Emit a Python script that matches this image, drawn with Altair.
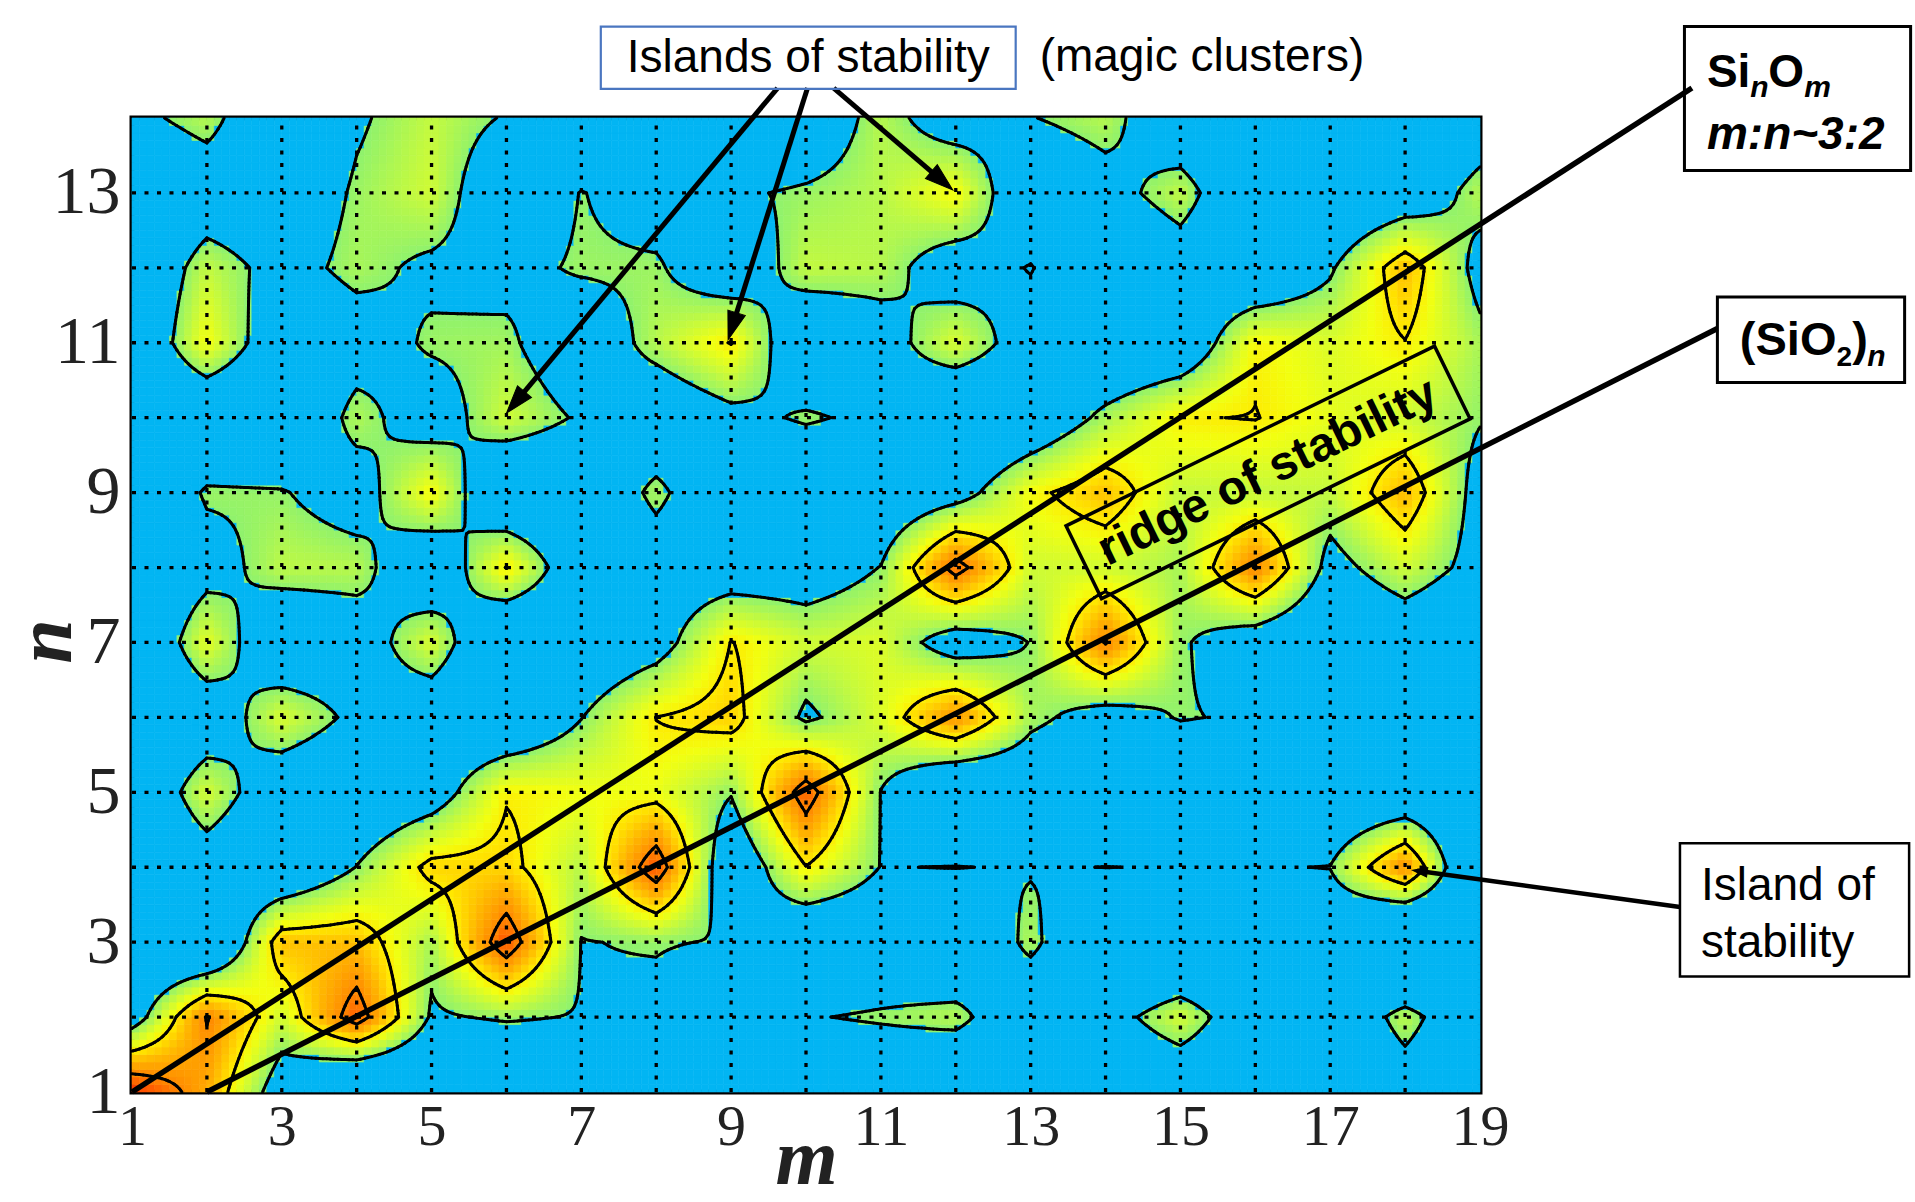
import numpy as np
import pandas as pd
import altair as alt

alt.data_transformers.disable_max_rows()

# Stability map of Si_nO_m clusters: m oxygen atoms (x), n silicon atoms (y)
m_values = list(range(1, 20))
n_values = list(range(1, 15))
m_ticks = list(range(1, 20, 2))
n_ticks = list(range(1, 14, 2))

# relative stability at each node, one list per n, m = 1 ... 19
n01 = [3.8, 2.6, 0.45, -0.8, -0.3, -0.5, 0.0, 0.0, 0.0, 0.0, 0.0, -0.4, 0.0, 0.0, 0.1, 0.0, 0.0, 0.45, 0.0]
n02 = [0.5, 3.05, 1.5, 3.4, 0.9, 1.1, 0.95, 0.8, 0.2, 0.95, 1.1, 1.3, 0.0, 0.6, 1.55, 0.2, 0.0, 1.35, 0.0]
n03 = [0.0, -0.5, 2.4, 2.4, 1.2, 3.5, 0.98, 1.05, 0.95, 0.0, 0.2, -0.2, 1.25, -0.4, -0.5, 0.0, 0.2, -1.2, 0.0]
n04 = [0.0, 0.5, 0.0, 1.02, 2.2, 2.2, 1.3, 3.5, 0.15, 1.98, 0.98, 1.02, 0.94, 1.01, 0.96, 0.95, 1.02, 2.95, -0.6]
n05 = [0.0, 1.55, 0.3, 0.1, 0.5, 1.95, 1.8, 1.75, 1.05, 3.4, 0.98, -0.3, 0.2, 0.0, 0.0, 0.0, 0.0, 0.0, 0.0]
n06 = [0.0, 0.35, 1.6, 0.8, 0.3, 0.0, 0.98, 2.01, 2.25, 0.85, 1.6, 2.9, 1.2, 0.6, 1.05, 0.9, 0.0, 0.0, 0.0]
n07 = [-0.2, 1.7, 0.1, 0.5, 1.6, -0.3, 0.2, 0.6, 2.02, 1.5, 1.6, 0.5, 1.02, 3.05, 1.1, 0.4, 0.0, 0.3, 0.0]
n08 = [0.0, 0.65, 1.35, 1.3, 0.15, 2.03, 0.2, 0.5, 0.45, 0.5, 1.02, 3.3, 1.5, 1.5, 1.2, 3.05, 0.7, 1.5, 0.7]
n09 = [0.0, 1.1, 1.05, 0.6, 1.9, -0.1, 0.1, 1.2, 0.1, 0.0, 0.2, 0.6, 1.85, 2.4, 1.4, 1.4, 1.4, 2.5, 0.65]
n10 = [0.0, 0.0, 0.0, 1.25, 0.55, 1.5, 0.9, 0.25, 0.75, 1.1, 0.8, -0.2, 0.2, 1.2, 1.97, 2.02, 1.7, 1.5, 1.05]
n11 = [0.0, 1.85, 0.3, 0.6, 1.1, 1.15, 0.3, 1.3, 2.03, 0.1, 0.6, 1.6, 0.5, 0.0, 0.2, 1.9, 1.6, 1.98, 1.2]
n12 = [0.0, 1.4, 0.7, 1.2, 0.85, 0.75, 1.1, 1.1, 0.3, 1.4, 1.3, 0.5, 1.05, 0.0, 0.47, 0.0, 0.9, 2.45, 0.7]
n13 = [0.0, 0.4, 0.35, 1.1, 1.5, 0.2, 1.03, 0.6, 0.9, 1.1, 1.3, 1.9, 0.1, 0.65, 1.4, -0.1, 0.0, 0.3, 1.3]
n14 = [0.77, 1.3, 0.0, 0.9, 1.4, 0.94, 0.0, 0.0, 0.0, 0.3, 1.3, 0.5, 0.97, 1.3, 0.2, 0.0, 0.0, 0.0, 0.44]

contour_levels = [1.0, 2.0, 3.0]
color_stops = [-3.0, 0.999, 1.0, 1.4, 1.8, 2.05, 2.5, 3.0, 3.5, 3.9]
color_range = ["#02b5f3", "#02b5f3", "#8ef26e", "#c4fa3e", "#f2ff10", "#ffe800",
               "#ffb400", "#ff8800", "#ff5000", "#e81000"]

grid = np.array([n01, n02, n03, n04, n05, n06, n07, n08, n09, n10, n11, n12, n13, n14], dtype=float)


def bilinear(ms, ns):
    """Bilinear surface through the node values, sampled at ms x ns."""
    i = np.clip(np.floor(ms - m_values[0]).astype(int), 0, grid.shape[1] - 2)
    j = np.clip(np.floor(ns - n_values[0]).astype(int), 0, grid.shape[0] - 2)
    u = (ms - m_values[0] - i)[None, :]
    v = (ns - n_values[0] - j)[:, None]
    g00 = grid[np.ix_(j, i)]
    g01 = grid[np.ix_(j, i + 1)]
    g10 = grid[np.ix_(j + 1, i)]
    g11 = grid[np.ix_(j + 1, i + 1)]
    return g00 * (1 - u) * (1 - v) + g01 * u * (1 - v) + g10 * (1 - u) * v + g11 * u * v


# filled map: small cells over the whole (m, n) area
step = 0.1
m_cells = m_values[0] + step * (np.arange(int(round((m_values[-1] - m_values[0]) / step))) + 0.5)
n_cells = n_values[0] + step * (np.arange(int(round((n_values[-1] - n_values[0]) / step))) + 0.5)
surface = bilinear(m_cells, n_cells)
mm, nn = np.meshgrid(m_cells, n_cells)
heat_df = pd.DataFrame({"m": mm.ravel().round(3), "n": nn.ravel().round(3), "v": surface.ravel().round(3)})

# contour lines by marching squares on a finer sampling
m_line = np.linspace(m_values[0], m_values[-1], 361)
n_line = np.linspace(n_values[0], n_values[-1], 261)
fine = bilinear(m_line, n_line)

CASES = {1: [(3, 0)], 2: [(0, 1)], 3: [(3, 1)], 4: [(1, 2)], 6: [(0, 2)], 7: [(3, 2)],
         8: [(2, 3)], 9: [(0, 2)], 11: [(1, 2)], 12: [(1, 3)], 13: [(0, 1)], 14: [(3, 0)]}


def contour_segments(F, xs, ys, level):
    above = F > level
    code = (above[:-1, :-1] * 1 + above[:-1, 1:] * 2 + above[1:, 1:] * 4 + above[1:, :-1] * 8)
    rows = []
    for j, i in zip(*np.nonzero((code > 0) & (code < 15))):
        v0, v1, v2, v3 = F[j, i], F[j, i + 1], F[j + 1, i + 1], F[j + 1, i]
        x0, x1, y0, y1 = xs[i], xs[i + 1], ys[j], ys[j + 1]

        def edge(k):
            if k == 0:
                return x0 + (level - v0) / (v1 - v0) * (x1 - x0), y0
            if k == 1:
                return x1, y0 + (level - v1) / (v2 - v1) * (y1 - y0)
            if k == 2:
                return x0 + (level - v3) / (v2 - v3) * (x1 - x0), y1
            return x0, y0 + (level - v0) / (v3 - v0) * (y1 - y0)

        c = int(code[j, i])
        centre_above = (v0 + v1 + v2 + v3) / 4 > level
        if c == 5:
            pairs = [(0, 1), (2, 3)] if centre_above else [(3, 0), (1, 2)]
        elif c == 10:
            pairs = [(3, 0), (1, 2)] if centre_above else [(0, 1), (2, 3)]
        else:
            pairs = CASES[c]
        for a, b in pairs:
            (xa, ya), (xb, yb) = edge(a), edge(b)
            rows.append((round(xa, 4), round(ya, 4), round(xb, 4), round(yb, 4)))
    return pd.DataFrame(rows, columns=["m", "n", "m2", "n2"])


contour_df = pd.concat([contour_segments(fine, m_line, n_line, lv) for lv in contour_levels], ignore_index=True)

# scales and axes shared by every layer
xscale = alt.Scale(domain=[m_values[0], m_values[-1]], nice=False, zero=False)
yscale = alt.Scale(domain=[n_values[0], n_values[-1]], nice=False, zero=False)
xaxis = alt.Axis(values=m_ticks, format="d", title="m", grid=False, ticks=False, domain=False,
                 labelFont="Liberation Serif", labelFontSize=58, labelColor="#222222", labelPadding=6,
                 labelFlush=False, labelOverlap=False,
                 titleFont="Liberation Serif", titleFontSize=80, titleFontStyle="italic",
                 titleFontWeight="bold", titleColor="#222222", titleX=674, titleY=91,
                 titleAlign="center", titleBaseline="alphabetic")
yaxis = alt.Axis(values=n_ticks, format="d", title="n", grid=False, ticks=False, domain=False,
                 labelFont="Liberation Serif", labelFontSize=68, labelColor="#222222", labelPadding=12,
                 labelFlush=False, labelOverlap=False,
                 titleFont="Liberation Serif", titleFontSize=80, titleFontStyle="italic",
                 titleFontWeight="bold", titleColor="#222222", titleAngle=270, titleX=-62, titleY=523,
                 titleAlign="center", titleBaseline="alphabetic")


def X(field):
    return alt.X(f"{field}:Q", scale=xscale, axis=xaxis)


def Y(field):
    return alt.Y(f"{field}:Q", scale=yscale, axis=yaxis)


cscale = alt.Scale(domain=color_stops, range=color_range, clamp=True, interpolate="rgb")
half = step / 2
heat = alt.Chart(heat_df).transform_calculate(
    m_lo=f"datum.m - {half}", m_hi=f"datum.m + {half}",
    n_lo=f"datum.n - {half}", n_hi=f"datum.n + {half}",
).mark_rect(strokeWidth=0.6).encode(
    x=X("m_lo"), x2="m_hi:Q", y=Y("n_lo"), y2="n_hi:Q",
    color=alt.Color("v:Q", scale=cscale, legend=None),
    stroke=alt.Stroke("v:Q", scale=cscale, legend=None),
)

# dotted grid at every integer m and n
vgrid_df = pd.DataFrame({"m": m_values[1:-1], "n": n_values[0], "n2": n_values[-1]})
hgrid_df = pd.DataFrame({"n": n_values[1:-1], "m": m_values[0], "m2": m_values[-1]})
dots = dict(color="black", strokeWidth=3.3, strokeDash=[4, 8.5])
vgrid = alt.Chart(vgrid_df).mark_rule(**dots).encode(x=X("m"), y=Y("n"), y2="n2:Q")
hgrid = alt.Chart(hgrid_df).mark_rule(**dots).encode(x=X("m"), x2="m2:Q", y=Y("n"))

contours = alt.Chart(contour_df).mark_rule(color="black", strokeWidth=3.0, strokeCap="round").encode(
    x=X("m"), y=Y("n"), x2="m2:Q", y2="n2:Q")

# Si_nO_m (m:n ~ 3:2) and (SiO2)_n guide lines, running out to their labels
guide_m = [1.0, 2.0]
guide_n = [1.0, 1.0]
guide_m2 = [21.83, 22.17]
guide_n2 = [14.40, 11.19]
guides = alt.Chart(pd.DataFrame({"m": guide_m, "n": guide_n, "m2": guide_m2, "n2": guide_n2})).mark_rule(
    color="black", strokeWidth=5.5).encode(x=X("m"), y=Y("n"), x2="m2:Q", y2="n2:Q")

# arrows to the magic clusters and to the (18, 4) island
arrow_from_m = [9.62, 10.02, 10.37, 21.67]
arrow_from_n = [14.40, 14.40, 14.40, 3.47]
arrow_to_m = [6.0, 8.96, 11.96, 18.1]
arrow_to_n = [10.06, 11.04, 13.04, 3.96]
arrow_width = [5.0, 5.0, 5.0, 4.5]
arrow_head = [1100, 1100, 1100, 300]

arrow_layers = []
head_path = "M0,0L-0.55,1.7L0.55,1.7Z"
for m0, n0, m1, n1, w, hs in zip(arrow_from_m, arrow_from_n, arrow_to_m, arrow_to_n, arrow_width, arrow_head):
    length = np.hypot(m1 - m0, n1 - n0)
    back = 0.12 if hs > 500 else 0.06
    me, ne = m1 - back * (m1 - m0) / length, n1 - back * (n1 - n0) / length
    seg = pd.DataFrame({"m": [m0], "n": [n0], "m2": [me], "n2": [ne]})
    arrow_layers.append(alt.Chart(seg).mark_rule(color="black", strokeWidth=w).encode(
        x=X("m"), y=Y("n"), x2="m2:Q", y2="n2:Q"))
    heading = float(np.degrees(np.arctan2(m1 - m0, n1 - n0)) % 360)
    tip = pd.DataFrame({"m": [m1], "n": [n1]})
    arrow_layers.append(alt.Chart(tip).mark_point(
        shape=head_path, size=hs, angle=heading, filled=True, fill="black", stroke="black",
        strokeWidth=1, opacity=1).encode(x=X("m"), y=Y("n")))

# label frames
box_m = [7.26, 21.73, 22.17, 21.67]
box_m2 = [12.80, 24.75, 24.67, 24.73]
box_n = [14.39, 13.30, 10.47, 2.54]
box_n2 = [15.22, 15.22, 11.61, 4.32]
box_color = ["#4a76c0", "black", "black", "black"]
box_width = [2.2, 3.0, 3.0, 2.5]
box_layers = []
for a, b, c, d, col, w in zip(box_m, box_m2, box_n, box_n2, box_color, box_width):
    frame = pd.DataFrame({"m": [a], "m2": [b], "n": [c], "n2": [d]})
    box_layers.append(alt.Chart(frame).mark_rect(fill="white", fillOpacity=0, stroke=col, strokeWidth=w).encode(
        x=X("m"), x2="m2:Q", y=Y("n"), y2="n2:Q"))

# rotated frame and caption along the ridge
ridge_m, ridge_n = 16.17, 9.27
ridge_angle = 334
ridge_df = pd.DataFrame({"m": [ridge_m], "n": [ridge_n], "label": ["ridge of stability"]})
ridge_box = alt.Chart(ridge_df).mark_point(
    shape="M-1,-0.1976L1,-0.1976L1,0.1976L-1,0.1976Z", size=410 ** 2, angle=ridge_angle,
    filled=False, stroke="black", strokeWidth=3.5, opacity=1).encode(x=X("m"), y=Y("n"))
ridge_text = alt.Chart(ridge_df).mark_text(
    font="Liberation Sans", fontSize=48, fontWeight="bold", angle=ridge_angle, align="center",
    baseline="middle", color="black").encode(x=X("m"), y=Y("n"), text="label:N")


def text_layer(text, m, n, size, weight="normal", style="normal", align="left", baseline="alphabetic"):
    df = pd.DataFrame({"m": [m], "n": [n], "label": [text]})
    return alt.Chart(df).mark_text(
        font="Liberation Sans", fontSize=size, fontWeight=weight, fontStyle=style,
        align=align, baseline=baseline, color="black").encode(x=X("m"), y=Y("n"), text="label:N")


texts = [
    text_layer("Islands of stability", 10.03, 14.80, 46, align="center", baseline="middle"),
    text_layer("(magic clusters)", 13.12, 14.82, 46, baseline="middle"),
    text_layer("Island of", 21.95, 3.56, 46),
    text_layer("stability", 21.95, 2.80, 46),
    text_layer("Si", 22.03, 14.42, 46, weight="bold"),
    text_layer("n", 22.61, 14.28, 30, weight="bold", style="italic"),
    text_layer("O", 22.85, 14.42, 46, weight="bold"),
    text_layer("m", 23.33, 14.28, 30, weight="bold", style="italic"),
    text_layer("m:n~3:2", 22.03, 13.58, 46, weight="bold", style="italic"),
    text_layer("(SiO", 22.47, 10.84, 47, weight="bold"),
    text_layer("2", 23.76, 10.69, 28, weight="bold"),
    text_layer(")", 23.97, 10.84, 47, weight="bold"),
    text_layer("n", 24.17, 10.69, 30, weight="bold", style="italic"),
]

chart = alt.layer(
    heat, vgrid, hgrid, contours, guides, *arrow_layers, *box_layers, ridge_box, ridge_text, *texts
).properties(
    width=1348, height=974,
    padding={"left": 132, "top": 118, "right": 435, "bottom": 110},
    autosize=alt.AutoSizeParams(type="none"),
    background="white",
).configure_view(stroke="black", strokeWidth=5)

chart.save("out.html", embed_options={"renderer": "svg", "actions": False})
